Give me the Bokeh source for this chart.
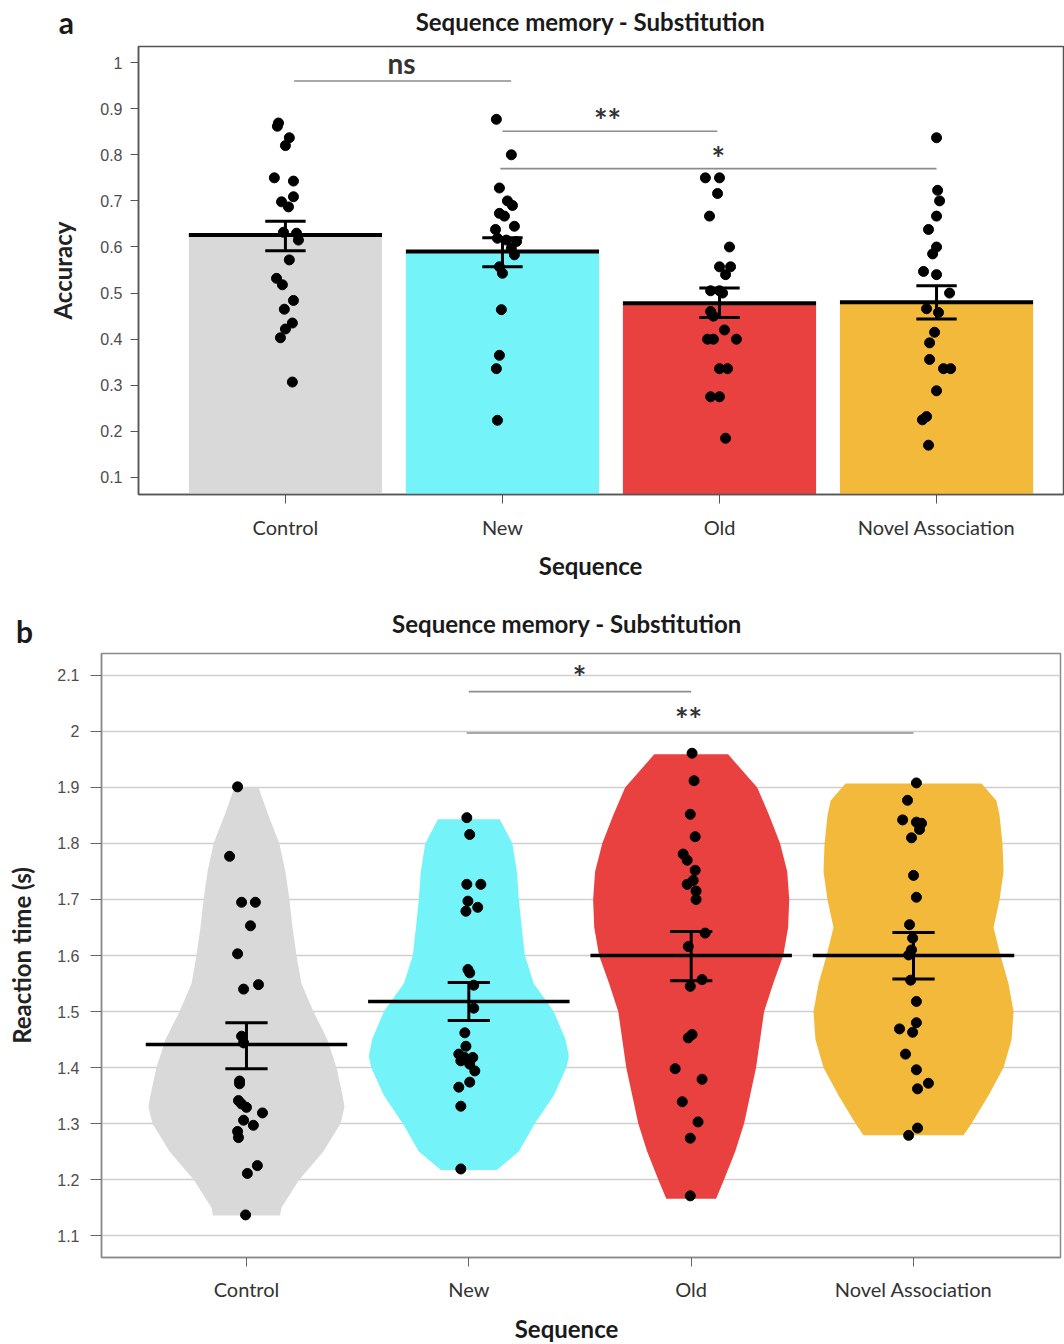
from bokeh.plotting import figure
from bokeh.models import Range1d, FixedTicker, PrintfTickFormatter, Label
from bokeh.core.properties import value
from bokeh.embed import file_html
from bokeh.resources import INLINE

# ---------------- data ----------------
categories = ["Control", "New", "Old", "Novel Association"]
colors = ["#d9d9d9", "#74f4f9", "#e8413f", "#f3b93b"]
chart_title = "Sequence memory - Substitution"
x_title = "Sequence"

# panel a: accuracy (mean and standard error)
acc_mean = [0.626, 0.590, 0.478, 0.480]
acc_low = [0.592, 0.557, 0.447, 0.444]
acc_high = [0.656, 0.620, 0.511, 0.516]

acc_control = [0.869, 0.862, 0.837, 0.820, 0.750, 0.743, 0.709, 0.698, 0.687, 0.632, 0.630,
               0.615, 0.572, 0.532, 0.518, 0.484, 0.465, 0.435, 0.422, 0.403, 0.307]
acc_control_dx = [-0.032, -0.037, 0.018, 0.0, -0.051, 0.037, 0.037, -0.018, 0.014, -0.009, 0.051,
                  0.060, 0.018, -0.041, -0.014, 0.037, -0.005, 0.032, 0.0, -0.023, 0.032]
acc_new = [0.877, 0.800, 0.728, 0.700, 0.690, 0.673, 0.667, 0.645, 0.638, 0.619, 0.615, 0.612,
           0.597, 0.583, 0.557, 0.543, 0.464, 0.365, 0.336, 0.224]
acc_new_dx = [-0.028, 0.041, -0.014, 0.023, 0.046, -0.014, 0.009, 0.055, -0.032, -0.023, 0.018, 0.065,
              0.041, 0.055, -0.014, 0.0, -0.005, -0.014, -0.028, -0.023]
acc_old = [0.750, 0.750, 0.716, 0.667, 0.600, 0.557, 0.557, 0.540, 0.505, 0.505, 0.500, 0.460,
           0.450, 0.420, 0.400, 0.400, 0.400, 0.336, 0.336, 0.275, 0.275, 0.185]
acc_old_dx = [-0.065, 0.0, -0.009, -0.046, 0.046, 0.0, 0.051, 0.028, -0.041, 0.0, 0.014, -0.041,
              -0.028, 0.023, -0.055, -0.028, 0.078, 0.0, 0.037, -0.041, 0.0, 0.028]
acc_novel = [0.837, 0.723, 0.700, 0.667, 0.638, 0.600, 0.585, 0.547, 0.540, 0.500, 0.466, 0.458,
             0.415, 0.392, 0.356, 0.336, 0.336, 0.288, 0.232, 0.225, 0.170]
acc_novel_dx = [0.0, 0.005, 0.014, 0.0, -0.037, 0.0, -0.018, -0.060, 0.0, 0.060, -0.046, 0.009,
                -0.009, -0.032, -0.032, 0.032, 0.065, 0.0, -0.046, -0.065, -0.037]

acc_ticks = [0.1, 0.2, 0.3, 0.4, 0.5, 0.6, 0.7, 0.8, 0.9, 1.0]

# significance brackets: (x0, x1, y_line, label, x_text, y_text)
acc_sig = [
    (0.04, 1.04, 0.960, "ns", 0.535, 0.9995),
    (1.00, 1.99, 0.851, "**", 1.484, 0.875),
    (0.99, 3.00, 0.770, "*", 1.995, 0.792),
]

# panel b: reaction time (mean and standard error)
rt_mean = [1.441, 1.518, 1.600, 1.600]
rt_low = [1.398, 1.484, 1.555, 1.558]
rt_high = [1.480, 1.552, 1.643, 1.641]

rt_control = [1.901, 1.777, 1.695, 1.695, 1.653, 1.603, 1.548, 1.540, 1.456, 1.444, 1.376, 1.371,
              1.341, 1.335, 1.329, 1.319, 1.306, 1.297, 1.286, 1.275, 1.225, 1.211, 1.137]
rt_control_dx = [-0.040, -0.076, -0.022, 0.040, 0.018, -0.040, 0.054, -0.013, -0.022, -0.013, -0.031,
                 -0.031, -0.036, -0.022, 0.0, 0.072, -0.013, 0.031, -0.040, -0.036, 0.049, 0.004, -0.004]
rt_new = [1.846, 1.816, 1.727, 1.727, 1.697, 1.686, 1.679, 1.575, 1.569, 1.547, 1.506, 1.462,
          1.438, 1.424, 1.418, 1.418, 1.412, 1.406, 1.394, 1.374, 1.365, 1.331, 1.219]
rt_new_dx = [-0.009, 0.004, -0.009, 0.054, -0.004, 0.040, -0.013, -0.004, 0.004, 0.022, 0.022, -0.018,
             -0.013, -0.045, -0.018, 0.018, -0.036, 0.004, 0.027, 0.004, -0.045, -0.036, -0.036]
rt_old = [1.961, 1.912, 1.852, 1.812, 1.781, 1.770, 1.752, 1.734, 1.727, 1.715, 1.700, 1.640,
          1.616, 1.557, 1.545, 1.459, 1.453, 1.398, 1.379, 1.339, 1.303, 1.274, 1.171]
rt_old_dx = [0.004, 0.013, -0.004, 0.018, -0.036, -0.018, 0.018, 0.009, -0.018, 0.022, 0.022, 0.063,
             -0.013, 0.049, -0.004, 0.004, -0.013, -0.072, 0.049, -0.040, 0.031, -0.004, -0.004]
rt_novel = [1.908, 1.877, 1.842, 1.838, 1.836, 1.825, 1.810, 1.743, 1.704, 1.655, 1.631, 1.610,
            1.601, 1.556, 1.518, 1.480, 1.469, 1.463, 1.424, 1.396, 1.372, 1.362, 1.292, 1.279]
rt_novel_dx = [0.013, -0.027, -0.049, 0.013, 0.036, 0.027, -0.009, 0.0, 0.013, -0.018, -0.004, -0.009,
               -0.022, -0.013, 0.013, 0.013, -0.063, -0.004, -0.036, 0.013, 0.067, 0.018, 0.018, -0.022]

# violin outlines: reaction-time levels and half widths (category units)
vio_control_y = [1.136, 1.15, 1.20, 1.25, 1.30, 1.33, 1.35, 1.40, 1.45, 1.50, 1.55, 1.60, 1.65,
                 1.70, 1.75, 1.80, 1.85, 1.90]
vio_control_w = [0.151, 0.157, 0.238, 0.346, 0.423, 0.441, 0.432, 0.405, 0.364, 0.301, 0.247, 0.225,
                 0.207, 0.193, 0.175, 0.148, 0.099, 0.054]
vio_new_y = [1.217, 1.25, 1.30, 1.35, 1.40, 1.42, 1.45, 1.50, 1.55, 1.60, 1.65, 1.70, 1.75, 1.80, 1.843]
vio_new_w = [0.126, 0.225, 0.297, 0.382, 0.439, 0.450, 0.435, 0.382, 0.292, 0.252, 0.238, 0.225,
             0.216, 0.196, 0.139]
vio_old_y = [1.166, 1.20, 1.25, 1.30, 1.35, 1.40, 1.45, 1.50, 1.55, 1.60, 1.65, 1.70, 1.75, 1.80,
             1.85, 1.90, 1.959]
vio_old_w = [0.112, 0.148, 0.198, 0.238, 0.265, 0.292, 0.310, 0.328, 0.369, 0.414, 0.436, 0.441,
             0.432, 0.400, 0.351, 0.297, 0.166]
vio_novel_y = [1.279, 1.30, 1.35, 1.40, 1.45, 1.50, 1.55, 1.60, 1.65, 1.70, 1.75, 1.80, 1.85,
               1.876, 1.907]
vio_novel_w = [0.225, 0.261, 0.337, 0.405, 0.441, 0.450, 0.427, 0.391, 0.360, 0.387, 0.405, 0.400,
               0.387, 0.373, 0.306]

rt_ticks = [1.1, 1.2, 1.3, 1.4, 1.5, 1.6, 1.7, 1.8, 1.9, 2.0, 2.1]

rt_sig = [
    (1.00, 2.00, 2.071, "*", 1.498, 2.0965),
    (0.99, 3.00, 1.997, "**", 1.988, 2.021),
]

# ---------------- styling helpers ----------------
FONT = "Lato"
TICK_FONT = "Liberation Sans"
idx = list(range(len(categories)))


def style_axes(p, ylabel, ticks, ytick_out, ytick_standoff, ylabel_standoff, xtick_standoff):
    p.xgrid.visible = False
    p.xaxis.ticker = FixedTicker(ticks=idx)
    p.xaxis.major_label_overrides = {i: c for i, c in enumerate(categories)}
    p.xaxis.major_label_text_font = FONT
    p.xaxis.major_label_text_font_size = "20px"
    p.xaxis.major_label_text_color = "#333333"
    p.xaxis.major_label_standoff = xtick_standoff
    p.xaxis.major_tick_out = 9
    p.xaxis.major_tick_in = 0
    p.xaxis.minor_tick_line_color = None

    p.yaxis.ticker = FixedTicker(ticks=ticks)
    p.yaxis.formatter = PrintfTickFormatter(format="%g")
    p.yaxis.major_label_text_font = TICK_FONT
    p.yaxis.major_label_text_font_size = "16px"
    p.yaxis.major_label_text_color = "#4d4d4d"
    p.yaxis.major_label_standoff = ytick_standoff
    p.yaxis.major_tick_out = ytick_out
    p.yaxis.major_tick_in = 0
    p.yaxis.minor_tick_line_color = None
    p.yaxis.axis_label = ylabel
    p.yaxis.axis_label_text_font = FONT
    p.yaxis.axis_label_text_font_style = "bold"
    p.yaxis.axis_label_text_font_size = "24px"
    p.yaxis.axis_label_text_color = "#222222"
    p.yaxis.axis_label_standoff = ylabel_standoff


def side_text(p, side, x, y, text, size):
    # text placed in a border panel, positioned in data coordinates
    p.add_layout(Label(x=x, y=y, text=text, text_font=FONT, text_font_style="bold",
                       text_font_size=size, text_color="#1a1a1a", text_align="center",
                       text_baseline="alphabetic"), side)


def add_sig(p, sig):
    for x0, x1, yl, lab, xt, yt in sig:
        p.segment(x0=[x0], x1=[x1], y0=[yl], y1=[yl], line_color="#8c8c8c", line_width=1.6)
        p.text(x=[xt], y=[yt], text=[lab], text_font=value(FONT), text_font_style="bold",
               text_font_size="28px" if lab == "ns" else "32px", text_color="#333333",
               text_align="center", text_baseline="middle")


def add_errorbars(p, low, high, cap):
    p.segment(x0=idx, x1=idx, y0=low, y1=high, line_color="black", line_width=3)
    p.segment(x0=[i - cap for i in idx], x1=[i + cap for i in idx], y0=low, y1=low,
              line_color="black", line_width=3)
    p.segment(x0=[i - cap for i in idx], x1=[i + cap for i in idx], y0=high, y1=high,
              line_color="black", line_width=3)


# ---------------- panel a: bars ----------------
pa = figure(width=1064, height=588, x_range=Range1d(-0.677, 3.585), y_range=Range1d(0.063, 1.035),
            output_backend="svg", toolbar_location=None,
            min_border_left=138, min_border_right=1, min_border_top=46, min_border_bottom=94)
style_axes(pa, "Accuracy", acc_ticks, 8, 8, 20, 11)
pa.ygrid.visible = False
pa.outline_line_color = "#555555"
pa.outline_line_width = 1.5
for ax in (pa.xaxis, pa.yaxis):
    ax.axis_line_color = "#555555"
    ax.axis_line_width = 1.5
    ax.major_tick_line_color = "#555555"

side_text(pa, "above", 1.406, 1.0903, chart_title, "24px")
side_text(pa, "left", -1.009, 1.0882, "a", "30px")
side_text(pa, "below", 1.406, -0.0908, x_title, "24px")

bar_w = 0.89
pa.vbar(x=idx, top=acc_mean, bottom=0, width=bar_w, fill_color=colors, line_color=None)
pa.segment(x0=[i - bar_w / 2 for i in idx], x1=[i + bar_w / 2 for i in idx], y0=acc_mean,
           y1=acc_mean, line_color="black", line_width=4)

for k, (vals, dx) in enumerate([(acc_control, acc_control_dx), (acc_new, acc_new_dx),
                                (acc_old, acc_old_dx), (acc_novel, acc_novel_dx)]):
    pa.scatter(x=[k + d for d in dx], y=vals, size=10, color="black")

add_errorbars(pa, acc_low, acc_high, 0.093)
add_sig(pa, acc_sig)

# ---------------- panel b: violins ----------------
pb = figure(width=1064, height=756, x_range=Range1d(-0.652, 3.661), y_range=Range1d(1.061, 2.139),
            output_backend="svg", toolbar_location=None,
            min_border_left=101, min_border_right=4, min_border_top=65, min_border_bottom=87)
style_axes(pb, "Reaction time (s)", rt_ticks, 11, 11, 18, 10)
pb.ygrid.ticker = FixedTicker(ticks=rt_ticks)
pb.ygrid.grid_line_color = "#cfcfcf"
pb.ygrid.grid_line_width = 1.5
pb.outline_line_color = "#8a8a8a"
pb.outline_line_width = 1.5
for ax in (pb.xaxis, pb.yaxis):
    ax.axis_line_color = "#8a8a8a"
    ax.axis_line_width = 1.5
    ax.major_tick_line_color = "#666666"

side_text(pb, "above", 1.4415, 2.1917, chart_title, "24px")
side_text(pb, "above", -0.998, 2.1783, "b", "30px")
side_text(pb, "below", 1.4393, 0.9345, x_title, "24px")

violins = [(vio_control_y, vio_control_w), (vio_new_y, vio_new_w),
           (vio_old_y, vio_old_w), (vio_novel_y, vio_novel_w)]
for k, (vy, vw) in enumerate(violins):
    xs = [k + w for w in vw] + [k - w for w in reversed(vw)]
    ys = list(vy) + list(reversed(vy))
    pb.patch(x=xs, y=ys, fill_color=colors[k], line_color=None)

for k, (vals, dx) in enumerate([(rt_control, rt_control_dx), (rt_new, rt_new_dx),
                                (rt_old, rt_old_dx), (rt_novel, rt_novel_dx)]):
    pb.scatter(x=[k + d for d in dx], y=vals, size=10, color="black")

mean_half = 0.453
pb.segment(x0=[i - mean_half for i in idx], x1=[i + mean_half for i in idx], y0=rt_mean,
           y1=rt_mean, line_color="black", line_width=3.5)
add_errorbars(pb, rt_low, rt_high, 0.095)
add_sig(pb, rt_sig)

# two independent roots stacked on the page, so each keeps its own frame margins
open("out.html", "w").write(file_html([pa, pb], INLINE))
